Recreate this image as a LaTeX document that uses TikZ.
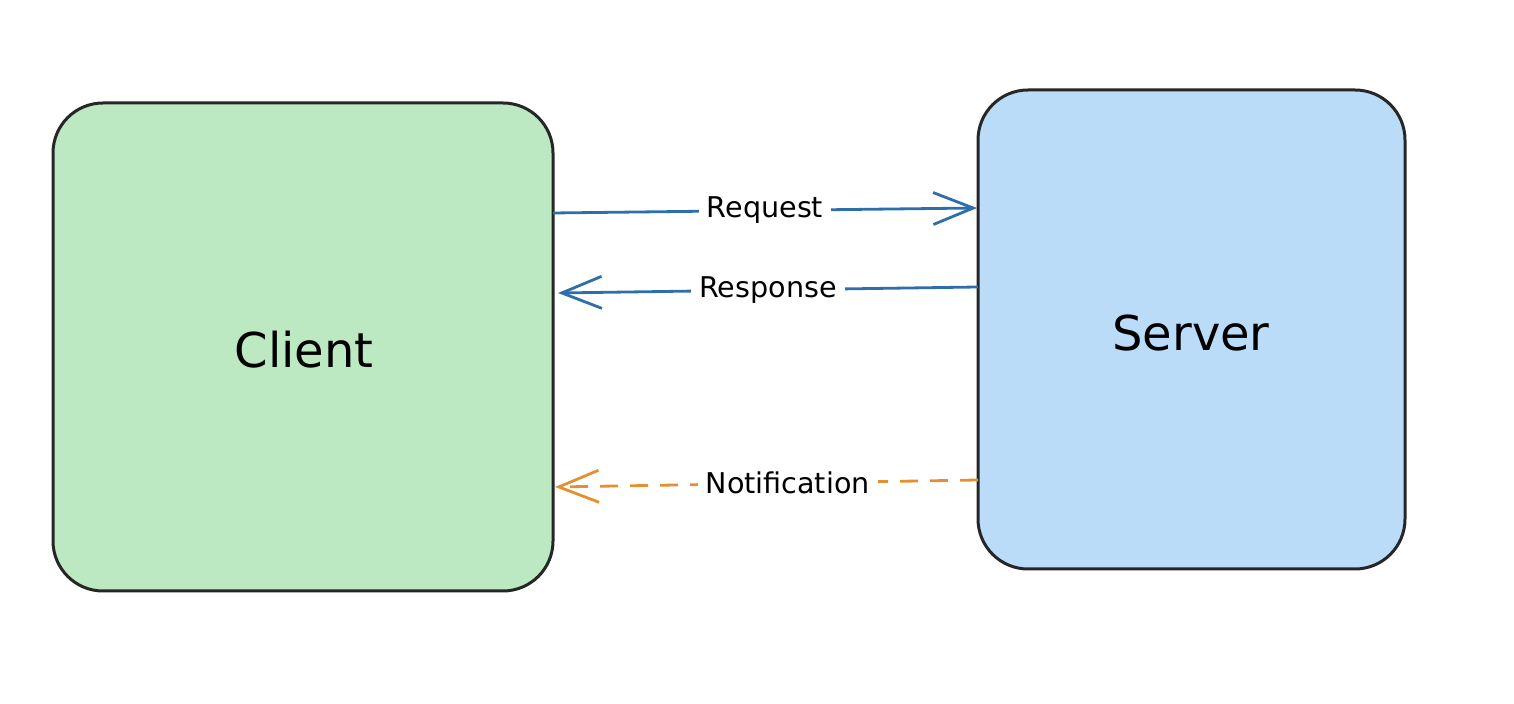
\documentclass[tikz,border=0pt]{standalone}
\usepackage{fontspec}
\setmainfont{DejaVu Sans}
\usetikzlibrary{arrows.meta}
\definecolor{clientfill}{RGB}{188,233,193}
\definecolor{serverfill}{RGB}{187,220,248}
\definecolor{msgblue}{RGB}{46,110,170}
\definecolor{msgorange}{RGB}{228,144,48}
\tikzset{every picture/.style={line width=0.75pt}}
\begin{document}
\begin{tikzpicture}[x=0.5pt,y=0.5pt,yscale=-1,xscale=1,
	box/.style={draw=black!85,line width=1.5pt,rounded corners=25pt},
	msg/.style={line width=1.4pt,-{Straight Barb[length=20pt,width=16pt]}},
	lbl/.style={fill=white,inner sep=4pt,font=\fontsize{14.3}{17}\selectfont}]
	\useasboundingbox (0,0) rectangle (1514,704);
	
	%Shapes: boxes
	\draw [box,fill=clientfill] (53,103) rectangle (553,591);
	\draw [box,fill=serverfill] (978,90) rectangle (1405,569);
	\node (client) at (304,350) {\fontsize{24}{28}\selectfont Client};
	\node (server) at (1191,333) {\fontsize{24}{28}\selectfont Server};
	
	%Anchors on box edges
	\coordinate (reqA) at (553,213);
	\coordinate (reqB) at (977,208);
	\coordinate (resA) at (978,287);
	\coordinate (resB) at (558,293);
	\coordinate (notA) at (978,480);
	\coordinate (notB) at (555,487);
	
	%Messages
	\draw [msg,draw=msgblue] (reqA) -- node [lbl] (req) {Request} (reqB);
	\draw [msg,draw=msgblue] (resA) -- node [lbl] (res) {Response} (resB);
	\draw [msg,draw=msgorange,dash pattern={on 9pt off 6pt}] (notA) -- node [lbl,pos=0.45] (note) {Notification} (notB);
	
\end{tikzpicture}
\end{document}
